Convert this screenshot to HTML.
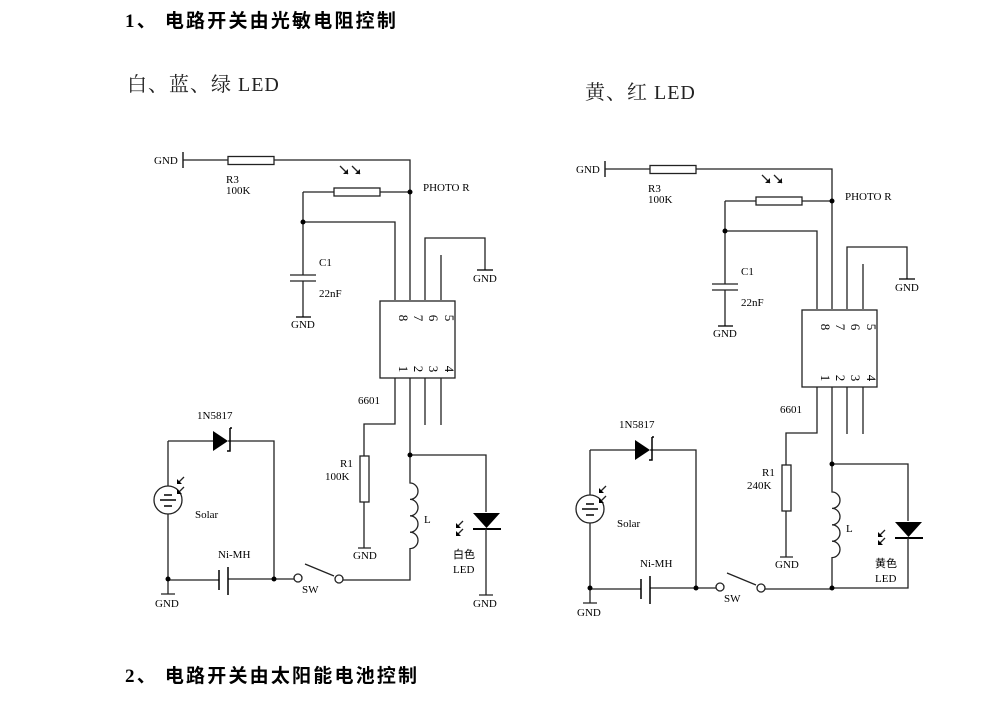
<!DOCTYPE html>
<html><head><meta charset="utf-8"><style>
html,body{margin:0;padding:0;background:#fff;}
svg{display:block}
.t{font-family:"Liberation Serif","Noto Serif CJK SC","Noto Sans CJK SC",serif;fill:#000}
.h{font-family:"Liberation Serif","Noto Sans CJK SC",sans-serif;font-weight:bold;font-size:19px;fill:#000}
.s{font-family:"Liberation Serif","Noto Serif CJK SC",serif;font-size:20px;fill:#222}
</style></head><body>
<svg width="994" height="726" viewBox="0 0 994 726" xmlns="http://www.w3.org/2000/svg">
<defs>
<g id="common" stroke="#222" stroke-width="1.3" fill="none">
  <line x1="183" y1="152" x2="183" y2="168" stroke="#000"/>
  <path d="M183 160H228M274 160H410V300"/>
  <rect x="228" y="156.5" width="46" height="8" fill="#fff"/>
  <path d="M340 166l8 8M352 166l8 8" stroke="#222"/>
  <path d="M348 174l-5 0 5-5z M360 174l-5 0 5-5z" fill="#111" stroke="none"/>
  <path d="M303 192H334M380 192H410"/>
  <rect x="334" y="188" width="46" height="8" fill="#fff"/>
  <path d="M303 192V275M303 222H395V300M303 281V317"/>
  <path d="M290 275H316M290 281H316" stroke="#222"/>
  <path d="M296 317H311" stroke="#000"/>
  <path d="M425 300V238H485V270M441 300V255"/>
  <path d="M477 270H493" stroke="#000"/>
  <rect x="380" y="301" width="75" height="77" fill="#fff"/>
  <path d="M395 378V424H364V456M410 378V455M425 378V425M441 378V425"/>
  <rect x="360" y="456" width="9" height="46" fill="#fff"/>
  <path d="M364 502V548M358 548H371"/>
  <path d="M410 455V483 a8 8.2 0 0 1 0 16.4 a8 8.2 0 0 1 0 16.4 a8 8.2 0 0 1 0 16.4 a8 8.2 0 0 1 0 16.4 V580H343"/>
  <path d="M410 455H486V512"/>
  <path d="M473 513H500L486.5 528Z" fill="#000" stroke="none"/>
  <path d="M473 529H501" stroke="#000" stroke-width="2"/>
  <path d="M463 521l-6 6M463 529l-6 6" stroke="#222"/>
  <path d="M456 528l0-5 5 5z M456 536l0-5 5 5z" fill="#000" stroke="none"/>
  <circle cx="298" cy="578" r="4" fill="#fff"/>
  <circle cx="339" cy="579" r="4" fill="#fff"/>
  <path d="M305 564L334 576"/>
  <path d="M168 441V486M168 514V580H219M228 579H294M274 579V441H228M168 441H213"/>
  <path d="M219 570V590" stroke="#000" stroke-width="1.5"/>
  <path d="M228 567V595" stroke="#000" stroke-width="1.5"/>
  <path d="M213 431L228 441L213 451Z" fill="#000" stroke="none"/>
  <path d="M230 428V451H227M230 428H232" stroke="#000" stroke-width="1.5"/>
  <circle cx="168" cy="500" r="14" fill="#fff"/>
  <path d="M164 495H172M160 500H176M164 506H172" stroke="#000" stroke-width="1.6"/>
  <path d="M184 477l-6 6M184 487l-6 6" stroke="#222"/>
  <path d="M177 484l0-5 5 5z M177 494l0-5 5 5z" fill="#000" stroke="none"/>
  <path d="M168 580V594M161 594H175"/>
  <g fill="#000" stroke="none">
    <circle cx="410" cy="192" r="2.5"/><circle cx="303" cy="222" r="2.5"/>
    <circle cx="410" cy="455" r="2.5"/><circle cx="274" cy="579" r="2.5"/>
    <circle cx="168" cy="579" r="2.5"/>
  </g>
</g>
<g id="ctext" class="t" font-size="11">
  <text x="154" y="164">GND</text>
  <text x="226" y="183">R3</text><text x="226" y="194">100K</text>
  <text x="423" y="191">PHOTO R</text>
  <text x="319" y="266">C1</text><text x="319" y="297">22nF</text>
  <text x="291" y="328">GND</text>
  <text x="473" y="282">GND</text>
  <g font-size="13">
    <text transform="translate(399,318) rotate(90)" text-anchor="middle">8</text>
    <text transform="translate(414,318) rotate(90)" text-anchor="middle">7</text>
    <text transform="translate(429,318) rotate(90)" text-anchor="middle">6</text>
    <text transform="translate(445,318) rotate(90)" text-anchor="middle">5</text>
    <text transform="translate(399,369) rotate(90)" text-anchor="middle">1</text>
    <text transform="translate(414,369) rotate(90)" text-anchor="middle">2</text>
    <text transform="translate(429,369) rotate(90)" text-anchor="middle">3</text>
    <text transform="translate(445,369) rotate(90)" text-anchor="middle">4</text>
  </g>
  <text x="358" y="404">6601</text>
  <text x="197" y="419">1N5817</text>
  <text x="340" y="467">R1</text>
  <text x="195" y="518">Solar</text>
  <text x="424" y="523">L</text>
  <text x="353" y="559">GND</text>
  <text x="218" y="558">Ni-MH</text>
  <text x="302" y="593">SW</text>
  <text x="155" y="607">GND</text>
</g>
</defs>

<text class="h" x="125" y="27" letter-spacing="2.2">1、 电路开关由光敏电阻控制</text>
<text class="s" x="127" y="91" letter-spacing="1">白、蓝、绿 LED</text>
<text class="s" x="585" y="99" letter-spacing="1">黄、红 LED</text>
<text class="h" x="125" y="682" letter-spacing="2.2">2、 电路开关由太阳能电池控制</text>

<use href="#common"/>
<use href="#ctext"/>
<g stroke="#222" stroke-width="1.3" fill="none">
  <path d="M486 529V595M479 595H493"/>
</g>
<g class="t" font-size="11">
  <text x="325" y="480">100K</text>
  <text x="453" y="558" font-family="'Noto Sans CJK SC',sans-serif" font-size="11">白色</text>
  <text x="453" y="573">LED</text>
  <text x="473" y="607">GND</text>
</g>

<g transform="translate(422,9)">
  <use href="#common"/>
  <use href="#ctext"/>
  <g stroke="#222" stroke-width="1.3" fill="none">
    <path d="M486 529V579H410"/>
  </g>
  <circle cx="410" cy="579" r="2.5" fill="#000"/>
  <g class="t" font-size="11">
    <text x="325" y="480">240K</text>
    <text x="453" y="558" font-family="'Noto Sans CJK SC',sans-serif" font-size="11">黄色</text>
    <text x="453" y="573">LED</text>
  </g>
</g>
</svg>
</body></html>
